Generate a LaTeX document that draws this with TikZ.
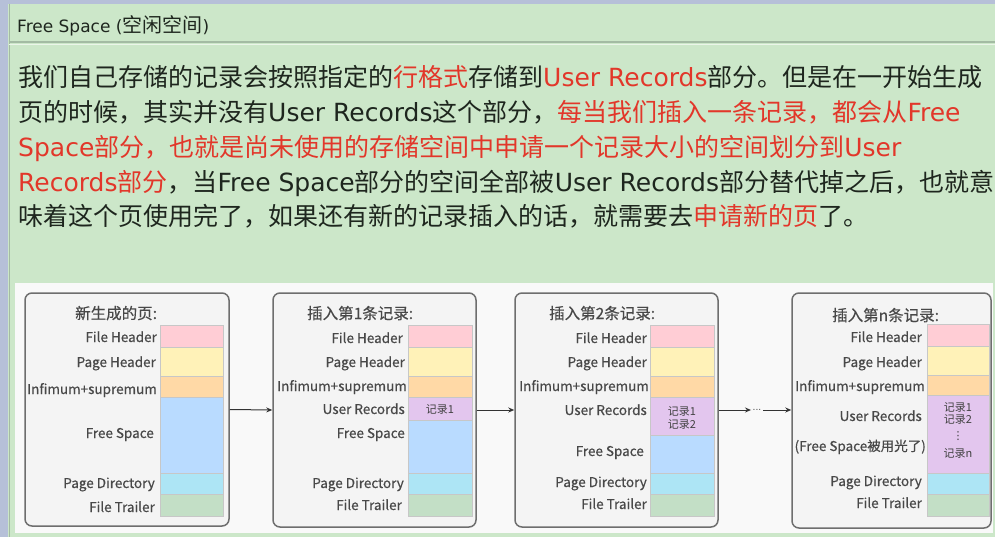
\documentclass[tikz,border=0pt]{standalone}
\usepackage{fontspec}
\setmainfont{DejaVu Sans}
\newfontfamily\cjk{Noto Sans CJK SC}
\newfontfamily\cjklab[FakeBold=0.5]{Noto Sans CJK SC}
\newfontfamily\lat{DejaVu Sans}
\usetikzlibrary{arrows.meta}
\definecolor{panelgreen}{HTML}{CCE7C9}
\definecolor{sidebar}{HTML}{B6C0D8}
\definecolor{sepline}{HTML}{A3BBA3}
\definecolor{blacktxt}{HTML}{1E261E}
\definecolor{redtxt}{HTML}{E2372A}
\definecolor{regionwhite}{HTML}{F9F9F9}
\definecolor{boxfill}{HTML}{F4F4F4}
\definecolor{boxline}{HTML}{6E6E6E}
\definecolor{labgray}{HTML}{484848}
\definecolor{cpink}{HTML}{FFCDD5}
\definecolor{cyellow}{HTML}{FFF2B8}
\definecolor{corange}{HTML}{FFD9A6}
\definecolor{cblue}{HTML}{B9DBFF}
\definecolor{ccyan}{HTML}{ADE5F5}
\definecolor{cgreen}{HTML}{C3DFC6}
\definecolor{cpurple}{HTML}{E3C6EE}
\newcommand\zh[1]{{\cjk #1}}
\newcommand\rd[1]{\textcolor{redtxt}{#1}}
\tikzset{
  bodyline/.style={anchor=base west, inner sep=0pt, font=\fontsize{25}{30}\selectfont, text=blacktxt},
  lbl/.style={anchor=base east, inner sep=0pt, font=\cjklab\fontsize{13.5}{15}\selectfont, text=labgray},
  btitle/.style={anchor=base west, inner sep=0pt, font=\cjklab\fontsize{15.5}{18}\selectfont, text=labgray},
  rec/.style={anchor=center, inner sep=0pt, font=\cjk\fontsize{11}{12}\selectfont, text=labgray!90!black},
  pagebox/.style={draw=boxline, line width=1.5pt, rounded corners=7pt, fill=boxfill, inner sep=0pt},
  seg/.style={draw=black!22, line width=0.6pt},
  arr/.style={draw=black!80, line width=1pt, -{Stealth[length=6pt,width=5pt]}}
}
\begin{document}
\begin{tikzpicture}[x=1pt,y=-1pt]
\useasboundingbox (0,0) rectangle (995,537);
% window frame
\fill[panelgreen] (0,0) rectangle (995,537);
\fill[sidebar] (0,0) rectangle (8,537);
\fill[sidebar] (0,0) rectangle (995,4);
\draw[sepline, line width=0.8pt] (9.5,4) -- (9.5,537);
\draw[sepline, line width=1.8pt] (9,42) -- (995,42);
\draw[white!60!panelgreen, line width=0.8pt] (9,44) -- (995,44);
% title
\node[anchor=base west, inner sep=0pt, font=\fontsize{17}{20}\selectfont, text=blacktxt] (title) at (17,33)
  {Free Space (\zh{\fontsize{20}{22}\selectfont 空闲空间})};
% body text
\node[bodyline] (l1) at (18,87) {\zh{我们自己存储的记录会按照指定的}\rd{\zh{行格式}}\zh{存储到}\rd{User Records}\zh{部分。但是在一开始生成}};
\node[bodyline] (l2) at (18,122) {\zh{页的时候，其实并没有}User Records\zh{这个部分，}\rd{\zh{每当我们插入一条记录，都会从}Free}};
\node[bodyline] (l3) at (18,157) {\rd{Space\zh{部分，也就是尚未使用的存储空间中申请一个记录大小的空间划分到}User}};
\node[bodyline] (l4) at (18,192) {\rd{Records\zh{部分}}\zh{，当}Free Space\zh{部分的空间全部被}User Records\zh{部分替代掉之后，也就意}};
\node[bodyline] (l5) at (18,226) {\zh{味着这个页使用完了，如果还有新的记录插入的话，就需要去}\rd{\zh{申请新的页}}\zh{了。}};
% diagram region
\fill[regionwhite] (15,283) rectangle (993,533);
% boxes
\node[pagebox, minimum width=204pt, minimum height=233pt] (b1) at (127,409.5) {};
\node[pagebox, minimum width=203pt, minimum height=234pt] (b2) at (374.5,410) {};
\node[pagebox, minimum width=203pt, minimum height=234pt] (b3) at (616.5,410) {};
\node[pagebox, minimum width=199pt, minimum height=235pt] (b4) at (891.5,410.5) {};
% box 1 segments
\draw[seg, fill=cpink]   (160,325) rectangle (223,347);
\draw[seg, fill=cyellow] (160,347) rectangle (223,376);
\draw[seg, fill=corange] (160,376) rectangle (223,397);
\draw[seg, fill=cblue]   (160,397) rectangle (223,473);
\draw[seg, fill=ccyan]   (160,473) rectangle (223,494);
\draw[seg, fill=cgreen]  (160,494) rectangle (223,516);
% box 2 segments
\draw[seg, fill=cpink]   (408,325) rectangle (472,347);
\draw[seg, fill=cyellow] (408,347) rectangle (472,376);
\draw[seg, fill=corange] (408,376) rectangle (472,397);
\draw[seg, fill=cpurple] (408,397) rectangle (472,420);
\draw[seg, fill=cblue]   (408,420) rectangle (472,473);
\draw[seg, fill=ccyan]   (408,473) rectangle (472,494);
\draw[seg, fill=cgreen]  (408,494) rectangle (472,516);
% box 3 segments
\draw[seg, fill=cpink]   (650,325) rectangle (714,347);
\draw[seg, fill=cyellow] (650,347) rectangle (714,376);
\draw[seg, fill=corange] (650,376) rectangle (714,397);
\draw[seg, fill=cpurple] (650,397) rectangle (714,435);
\draw[seg, fill=cblue]   (650,435) rectangle (714,473);
\draw[seg, fill=ccyan]   (650,473) rectangle (714,494);
\draw[seg, fill=cgreen]  (650,494) rectangle (714,516);
% box 4 segments
\draw[seg, fill=cpink]   (927,324) rectangle (989,346);
\draw[seg, fill=cyellow] (927,346) rectangle (989,375);
\draw[seg, fill=corange] (927,375) rectangle (989,395);
\draw[seg, fill=cpurple] (927,395) rectangle (989,473);
\draw[seg, fill=ccyan]   (927,473) rectangle (989,494);
\draw[seg, fill=cgreen]  (927,494) rectangle (989,516);
% titles
\node[btitle] (t1) at (75,319) {新生成的页:};
\node[btitle] (t2) at (307,319) {插入第1条记录:};
\node[btitle] (t3) at (549,319) {插入第2条记录:};
\node[btitle] (t4) at (832,321) {插入第n条记录:};
% box 1 labels
\node[lbl] (a1) at (157,342) {File Header};
\node[lbl] (a2) at (156,367) {Page Header};
\node[lbl] (a3) at (157,394) {Infimum+supremum};
\node[lbl] (a4) at (154,438) {Free Space};
\node[lbl] (a5) at (155,488) {Page Directory};
\node[lbl] (a6) at (155,512) {File Trailer};
% box 2 labels
\node[lbl] (c1) at (403,343) {File Header};
\node[lbl] (c2) at (405,367) {Page Header};
\node[lbl] (c3) at (407,391) {Infimum+supremum};
\node[lbl] (c4) at (405,414) {User Records};
\node[lbl] (c5) at (405,438) {Free Space};
\node[lbl] (c6) at (404,488) {Page Directory};
\node[lbl] (c7) at (402,510) {File Trailer};
\node[rec] (r21) at (440,409) {记录1};
% box 3 labels
\node[lbl] (d1) at (647,343) {File Header};
\node[lbl] (d2) at (647,367) {Page Header};
\node[lbl] (d3) at (649,391) {Infimum+supremum};
\node[lbl] (d4) at (647,415) {User Records};
\node[lbl] (d5) at (644,456) {Free Space};
\node[lbl] (d6) at (647,487) {Page Directory};
\node[lbl] (d7) at (647,509) {File Trailer};
\node[rec] (r31) at (682,411) {记录1};
\node[rec] (r32) at (682,424) {记录2};
% box 4 labels
\node[lbl] (e1) at (922,342) {File Header};
\node[lbl] (e2) at (922,367) {Page Header};
\node[lbl] (e3) at (925,391) {Infimum+supremum};
\node[lbl] (e4) at (922,421) {User Records};
\node[lbl] (e5) at (926,451) {(Free Space被用光了)};
\node[lbl] (e6) at (922,486) {Page Directory};
\node[lbl] (e7) at (922,508) {File Trailer};
\node[rec] (r41) at (958,407) {记录1};
\node[rec] (r42) at (958,419) {记录2};
\node[rec, font=\lat\fontsize{11}{12}\selectfont] (r4d) at (958,436) {⋮};
\node[rec] (r4n) at (958,453) {记录n};
% connectors
\node[inner sep=1.5pt, font=\lat\fontsize{9}{10}\selectfont, text=labgray] (dots) at (757,410) {...};
\draw[arr] (b1.east) -- (b2.west);
\draw[arr] (b2.east) -- (b3.west);
\draw[arr] (b3.east) -- (dots.west);
\draw[arr] (dots.east) -- (dots.east -| b4.west);
\end{tikzpicture}
\end{document}
